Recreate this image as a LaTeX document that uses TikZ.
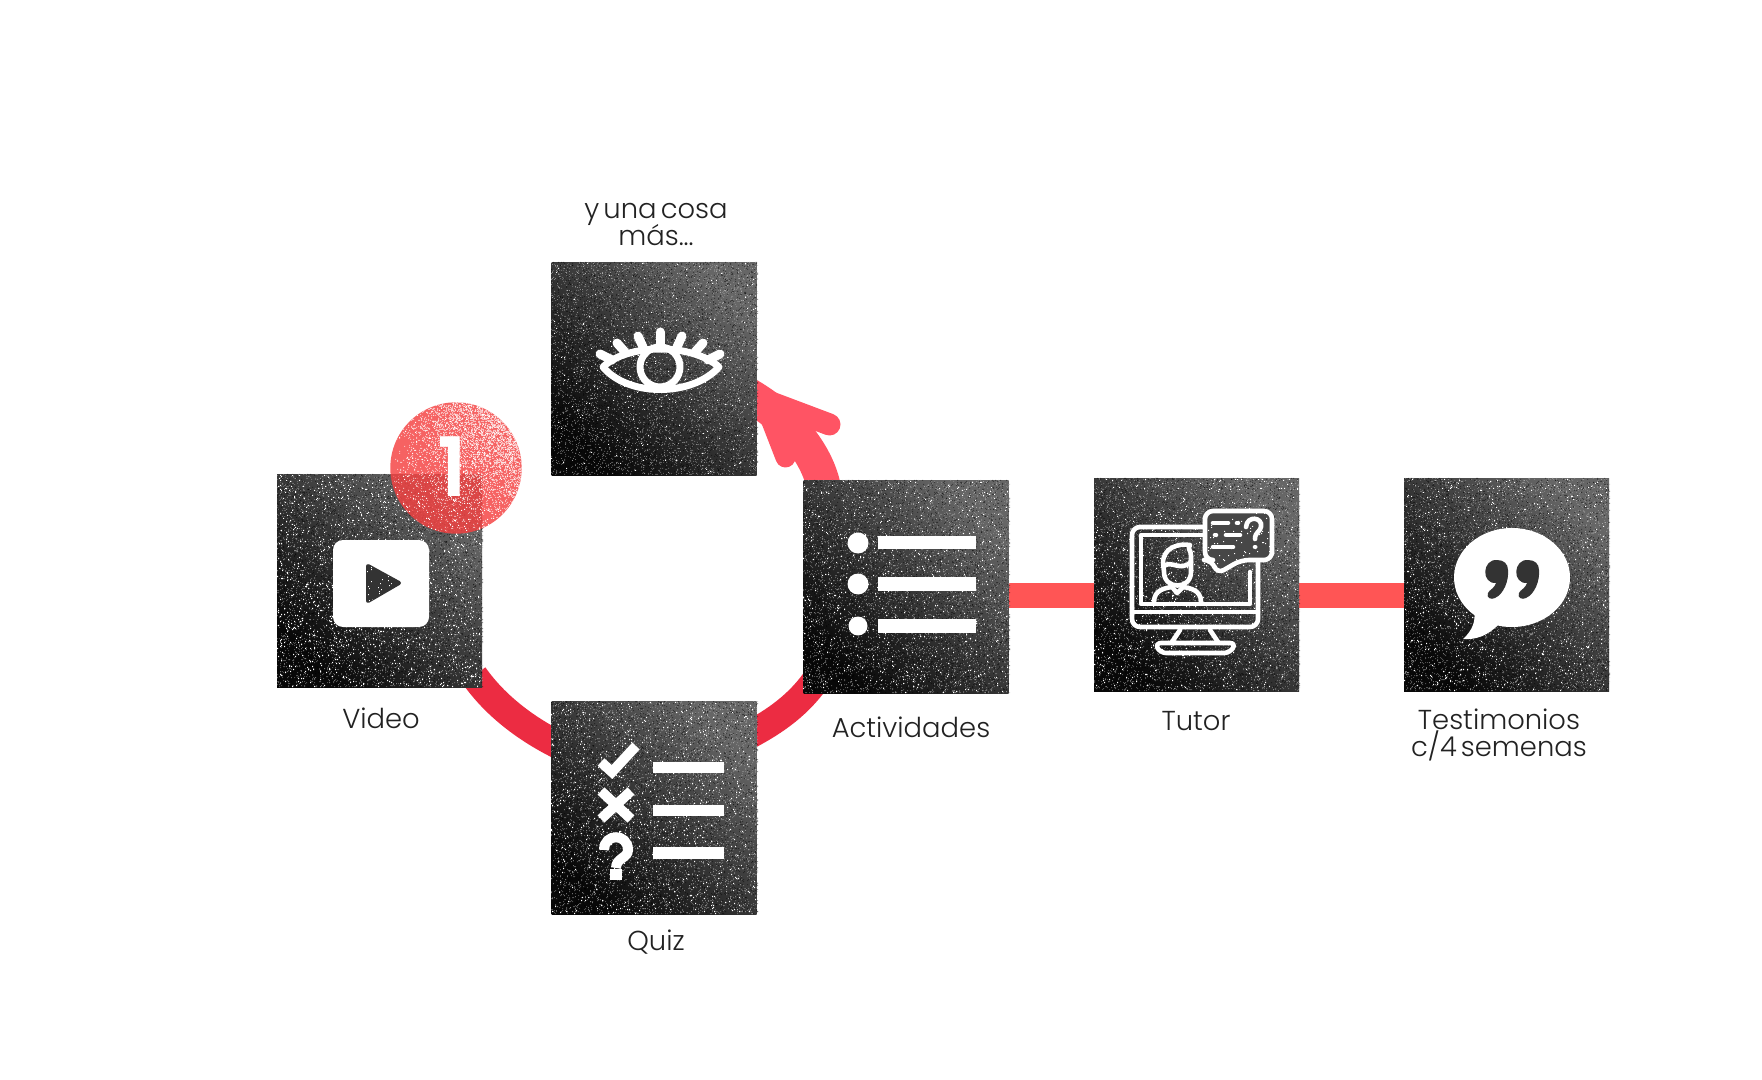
\documentclass[tikz,border=0pt]{standalone}
\usepackage{fontspec}
\setmainfont{Poppins}[UprightFont=* Light,BoldFont=* SemiBold,WordSpace=0.55]
\usetikzlibrary{calc}
\pgfdeclarelayer{back}
\pgfsetlayers{back,main}
\newcount\spk
\newdimen\tightlimit \tightlimit=-20pt
\newcommand\labfont{\fontsize{13.7}{13.5}\selectfont\lineskiplimit\tightlimit\relax}
\newcommand\flushspk{\ifnum\spk=\numexpr(\spk/100)*100\relax\pgfusepath{fill}\fi}
\newcommand\specks[7]{% x0 y0 w h n size(pt) colour
  \begin{pgfscope}\pgfsetfillcolor{#7}%
  \spk=0 \loop\ifnum\spk<#5 \advance\spk by 1
    \pgfmathrandominteger{\rx}{#1}{#1+#3-2}\pgfmathrandominteger{\ry}{#2+2}{#2+#4}%
    \pgfpathrectangle{\pgfpointxy{\rx}{\ry}}{\pgfqpoint{#6pt}{#6pt}}\flushspk
  \repeat\pgfusepath{fill}\end{pgfscope}}
\newcommand\grain[7]{% x0 y0 w h n opacity colour
  \begin{pgfscope}\pgfsetfillcolor{#7}\pgfsetfillopacity{#6}%
  \spk=0 \loop\ifnum\spk<#5 \advance\spk by 1
    \pgfmathrandominteger{\rx}{#1}{#1+#3}\pgfmathrandominteger{\ry}{#2+1}{#2+#4}%
    \pgfpathrectangle{\pgfpointxy{\rx}{\ry}}{\pgfqpoint{.5pt}{.5pt}}\flushspk
  \repeat\pgfusepath{fill}\end{pgfscope}}
% grain that thickens towards the upper right of its box
\newcommand\biasgrain[7]{%
  \begin{pgfscope}\pgfsetfillcolor{#7}\pgfsetfillopacity{#6}%
  \spk=0 \loop\ifnum\spk<#5 \advance\spk by 1
    \pgfmathrandominteger{\rx}{#1}{#1+#3}\pgfmathrandominteger{\rxb}{#1}{#1+#3}%
    \pgfmathrandominteger{\ry}{#2+1}{#2+#4}\pgfmathrandominteger{\ryb}{#2+1}{#2+#4}%
    \ifnum\rxb>\rx \let\rx\rxb\fi \ifnum\ryb<\ry \let\ry\ryb\fi
    \pgfpathrectangle{\pgfpointxy{\rx}{\ry}}{\pgfqpoint{.5pt}{.5pt}}\flushspk
  \repeat\pgfusepath{fill}\end{pgfscope}}
\newcommand\tex[7]{% x0 y0 w h nlarge nfine seed
  \pgfmathsetseed{#7}%
  \grain{#1}{#2}{#3}{#4}{4000}{.4}{black}%
  \grain{#1}{#2}{#3}{#4}{4500}{.45}{gray!70!white}%
  \specks{#1}{#2}{#3}{#4}{#5}{.58}{white}%
  \specks{#1}{#2}{#3}{#4}{#6}{.32}{white}}
\definecolor{ink}{HTML}{222222}
\definecolor{barred}{HTML}{FF5555}
\definecolor{badgered}{HTML}{F54040}
\definecolor{ringred}{HTML}{EC2C42}
\definecolor{arrowred}{HTML}{FF5464}
\definecolor{dk}{HTML}{333333}
\tikzset{
  sq/.style={minimum width=102.5pt,minimum height=106.5pt,inner sep=0pt,outer sep=0pt,
    shading=axis,top color=black!60,middle color=black!82,bottom color=black!97,shading angle=-45},
  lab/.style={text=ink,font=\labfont,align=center,inner sep=0pt},
  barline/.style={draw=barred,line width=12.5pt},
  ring/.style={draw=ringred,line width=14pt},
  arrowline/.style={draw=arrowred,line cap=round},
  wline/.style={draw=white,line width=5pt},
  eyeline/.style={draw=white,line width=3.5pt,line join=round,line cap=round},
  lash/.style={draw=white,line width=4.5pt,line cap=round},
  tline/.style={draw=white,line width=2.3pt,line join=round,line cap=round},
  badge/.style={fill=badgered,fill opacity=.82},
}
\begin{document}
\begin{tikzpicture}[x=.5pt,y=-.5pt]
\useasboundingbox (0,0) rectangle (1762,1080);
% squares
\node[sq] (video) at (379.5,581) {};
\node[sq] (eye)   at (654,369) {};
\node[sq] (quiz)  at (654,808) {};
\node[sq] (act)   at (906,587) {};
\node[sq] (tutor) at (1196.5,585) {};
\node[sq] (test)  at (1506.5,585) {};
% connectors behind the squares
\begin{pgfonlayer}{back}
\fill[white] (0,0) rectangle (1762,1080);
\draw[barline] ([yshift=-4.25pt]act.east) -- ([yshift=-5.25pt]tutor.west);
\draw[barline] ([yshift=-5.25pt]tutor.east) -- ([yshift=-5.25pt]test.west);
\draw[ring] ([shift={(-8,-12)}]video.south east) .. controls +(21,30) and +(-35,-17) .. ([shift={(10,45)}]quiz.north west);
\draw[ring] ([shift={(-12,36)}]quiz.north east) .. controls +(25,-13) and +(-20,28) .. ([shift={(12,-13)}]act.south west);
\coordinate (tip) at ($(eye.north east)+(-12,130)$);
\coordinate (tipb) at ($(eye.north east)+(8,141)$);
\draw[arrowline,line width=17pt] ([shift={(20,5)}]act.north west) .. controls +(-6,-27) and +(50,28) .. (tip);
\draw[arrowline,line width=11pt] (tip) -- ++(85,32);
\draw[arrowline,line width=10pt] (tipb) -- ++(21,54);
\end{pgfonlayer}
% textures
\tex{277}{474}{205}{213}{1100}{600}{11}
\tex{551}{262}{206}{213}{200}{1100}{12}
\tex{551}{701}{206}{213}{650}{1000}{13}
\tex{803}{480}{206}{213}{550}{900}{14}
\tex{1094}{478}{205}{213}{550}{900}{15}
\tex{1404}{478}{205}{213}{550}{900}{16}
% play icon
\fill[white,rounded corners=5pt] (333,540) rectangle (429,627);
\fill[dk,draw=dk,line width=2pt,line join=round] (368,566) -- (368,601) -- (399,583) -- cycle;
\begin{scope}
\clip (366,564) -- (366,603) -- (401,583) -- cycle;
\specks{366}{564}{35}{39}{40}{.45}{white}
\end{scope}
% eye icon
\draw[eyeline] (603,367) .. controls (628,343) and (692,343) .. (719,367) .. controls (692,397) and (628,397) .. cycle;
\draw[eyeline] (660,367) circle (20);
\draw[lash] (600,354) -- (612,360);
\draw[lash] (617,343) -- (625,352);
\draw[lash] (638,336) -- (643,347);
\draw[lash] (660,332) -- (660,345);
\draw[lash] (682,336) -- (677,347);
\draw[lash] (703,343) -- (695,352);
\draw[lash] (720,354) -- (708,360);
% quiz icon
\draw[wline,line cap=butt] (601,762) -- (612,772) -- (636,746);
\draw[wline] (601,791) -- (631,819);
\draw[wline] (631,791) -- (601,819);
\draw[wline,line cap=butt] (604,850) .. controls (604,833) and (628,833) .. (628,850) .. controls (628,858) and (616,858) .. (616,868);
\fill[white] (610,869) rectangle (622,880);
\fill[white] (653,762) rectangle (724,773);
\fill[white] (653,805) rectangle (724,816);
\fill[white] (653,847) rectangle (724,859);
% list icon
\fill[white] (858,543) circle (10.5);
\fill[white] (858,584) circle (10.5);
\fill[white] (858,626) circle (9.5);
\fill[white] (878,536) rectangle (976,549);
\fill[white] (878,577) rectangle (976,591);
\fill[white] (878,619) rectangle (976,633);
% tutor icon
\draw[tline,rounded corners=4pt] (1203,527) -- (1132,527) -- (1132,627) -- (1258,627) -- (1258,562);
\draw[tline] (1203,535) -- (1141,535) -- (1141,604) -- (1250,604) -- (1250,572);
\draw[tline] (1132,612) -- (1258,612);
\draw[tline] (1180,630) -- (1172,642);
\draw[tline] (1210,630) -- (1218,642);
\draw[tline,rounded corners=3pt] (1155,643) -- (1236,643) -- (1230,653) -- (1160,653) -- cycle;
\draw[tline] (1163,563) .. controls (1163,548) and (1178,543) .. (1190,545) .. controls (1187,549) and (1191,550) .. (1191,556) -- (1191,572) .. controls (1191,590) and (1164,590) .. (1164,572) -- cycle;
\draw[tline] (1164,566) .. controls (1172,560) and (1180,572) .. (1191,562);
\draw[tline] (1154,602) .. controls (1154,590) and (1165,588) .. (1172,587) -- (1177,593) -- (1183,587) .. controls (1190,588) and (1201,590) .. (1201,602);
\fill[black!72] (1205,511) -- (1272,511) -- (1272,560) -- (1241,560) -- (1217,574) -- (1212,560) -- (1205,560) -- cycle;
\begin{scope}
\clip (1205,511) -- (1272,511) -- (1272,560) -- (1241,560) -- (1217,574) -- (1212,560) -- (1205,560) -- cycle;
\specks{1205}{511}{68}{64}{90}{.5}{white}
\end{scope}
\draw[tline,rounded corners=4pt] (1205,511) -- (1272,511) -- (1272,560) -- (1241,560) -- (1217,574) -- (1212,560) -- (1205,560) -- cycle;
\draw[tline] (1213,523) -- (1228,523);
\draw[tline] (1237,523) -- (1238,523);
\draw[tline] (1215,535) -- (1216,535);
\draw[tline] (1226,535) -- (1240,535);
\draw[tline] (1213,547) -- (1233,547);
\draw[tline] (1246,527) .. controls (1247,515) and (1263,517) .. (1261,527) .. controls (1260,532) and (1255,532) .. (1255,539);
\draw[tline] (1255,547) -- (1255.2,547);
% quote icon
\fill[white] (1512,577.5) ellipse (58 and 49.5);
\fill[white] (1474,610) .. controls (1476,620) and (1473,630) .. (1463,639) .. controls (1475,640) and (1488,636) .. (1499,624) -- cycle;
\foreach \qx in {0,31}{
  \fill[dk,shift={(\qx,0)}] (1497,560) .. controls (1482,559) and (1481,584) .. (1496,583) .. controls (1495,588) and (1489,590) .. (1488,593) .. controls (1486,598) and (1491,600) .. (1495,598) .. controls (1504,594) and (1509,580) .. (1508,570) .. controls (1508,564) and (1504,560) .. (1497,560) -- cycle;
}
% badge
\fill[badge] (456,468) circle (65.7);
\begin{scope}
\clip (456,468) circle (65.7);
\pgfmathsetseed{21}
\biasgrain{390}{402}{132}{132}{5000}{.55}{white}
\specks{390}{402}{132}{132}{300}{.55}{white}
\end{scope}
\node[text=white,font=\fontsize{41}{41}\bfseries\selectfont,inner sep=0pt,anchor=base] (one) at (452,497) {1};
% labels
\node[lab,anchor=base] (lv) at (381,728) {Video};
\node[lab,anchor=base] (le) at (656,246) {y una cosa\\más...};
\node[lab,anchor=base] (lq) at (656,950) {Quiz};
\node[lab,anchor=base] (la) at (911,737) {Actividades};
\node[lab,anchor=base] (lt) at (1196,730) {Tutor};
\node[lab,anchor=base] (lm) at (1499,756) {Testimonios\\c/4 semenas};
\end{tikzpicture}
\end{document}
